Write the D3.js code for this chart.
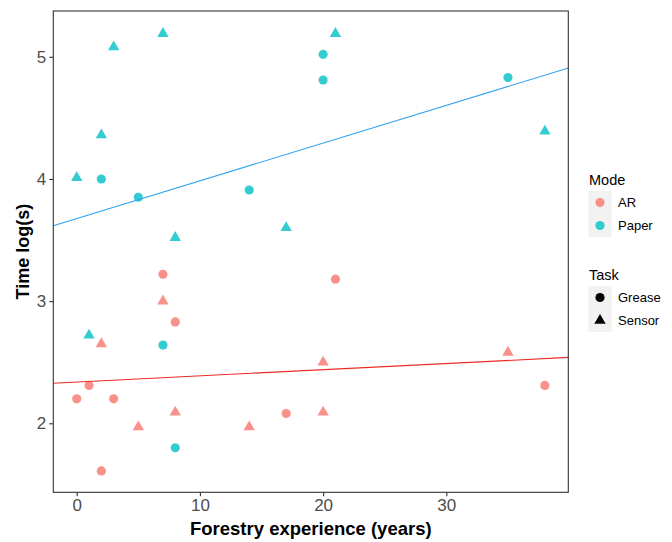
<!DOCTYPE html>
<html>
<head>
<meta charset="utf-8">
<script src="https://cdn.jsdelivr.net/npm/d3@7"></script>
<style>
  html, body { margin: 0; padding: 0; background: #fff; }
  svg { display: block; font-family: "Liberation Sans", Arial, sans-serif; }
</style>
</head>
<body>
<svg id="chart" width="672" height="542"></svg>
<script>
// Forestry experience (years) per participant, split by mode and task
const arGreaseX   = [7, 8, 1, 0, 3, 2, 17, 21, 38];
const arGreaseY   = [3.22, 2.83, 2.31, 2.20, 2.20, 1.61, 2.08, 3.18, 2.31];
const arSensorX   = [7, 2, 5, 8, 14, 20, 20, 35];
const arSensorY   = [3.00, 2.65, 1.97, 2.09, 1.97, 2.09, 2.50, 2.58];
const paperGreaseX = [2, 5, 14, 20, 20, 35, 7, 8];
const paperGreaseY = [4.00, 3.85, 3.91, 5.02, 4.81, 4.83, 2.64, 1.80];
const paperSensorX = [0, 2, 3, 7, 21, 17, 8, 38, 1];
const paperSensorY = [4.01, 4.36, 5.08, 5.19, 5.19, 3.60, 3.52, 4.39, 2.72];

const modes = ["AR", "Paper"];
const tasks = ["Grease", "Sensor"];
const xTicks = [0, 10, 20, 30];
const yTicks = [2, 3, 4, 5];

const pointColor = { AR: "#F8766D", Paper: "#00BFC4" };
const fitColor = { AR: "#ED2A24", Paper: "#33A3EE" };

const rows = [];
function addRows(mode, task, xs, ys) {
  xs.forEach((x, i) => rows.push({ mode, task, x, y: ys[i] }));
}
addRows("AR", "Grease", arGreaseX, arGreaseY);
addRows("AR", "Sensor", arSensorX, arSensorY);
addRows("Paper", "Grease", paperGreaseX, paperGreaseY);
addRows("Paper", "Sensor", paperSensorX, paperSensorY);

const svg = d3.select("#chart");
const panel = { left: 53.3, right: 568.3, top: 11, bottom: 492.3 };

const x = d3.scaleLinear().domain([-1.9, 39.9]).range([panel.left, panel.right]);
const y = d3.scaleLinear().domain([1.435, 5.375]).range([panel.bottom, panel.top]);

// clip for the fit lines
svg.append("defs").append("clipPath").attr("id", "panelClip")
  .append("rect")
  .attr("x", panel.left).attr("y", panel.top)
  .attr("width", panel.right - panel.left).attr("height", panel.bottom - panel.top);

// least-squares fit per mode, drawn across the whole panel
function fit(data) {
  const mx = d3.mean(data, d => d.x), my = d3.mean(data, d => d.y);
  const sxy = d3.sum(data, d => (d.x - mx) * (d.y - my));
  const sxx = d3.sum(data, d => (d.x - mx) ** 2);
  const b = sxy / sxx;
  return { a: my - b * mx, b };
}

const circleSym = d3.symbol().type(d3.symbolCircle).size(66);
const triSym = d3.symbol().type(d3.symbolTriangle).size(56);

// points
svg.append("g").selectAll("path")
  .data(rows)
  .join("path")
  .attr("transform", d => `translate(${x(d.x)},${y(d.y)})`)
  .attr("d", d => d.task === "Grease" ? circleSym() : triSym())
  .attr("fill", d => pointColor[d.mode])
  .attr("fill-opacity", 0.8);

// fit lines
const lineG = svg.append("g").attr("clip-path", "url(#panelClip)");
modes.forEach(m => {
  const f = fit(rows.filter(r => r.mode === m));
  const [x0, x1] = x.domain();
  lineG.append("line")
    .attr("x1", x(x0)).attr("y1", y(f.a + f.b * x0))
    .attr("x2", x(x1)).attr("y2", y(f.a + f.b * x1))
    .attr("stroke", fitColor[m])
    .attr("stroke-width", 1.1);
});

// panel border
svg.append("rect")
  .attr("x", panel.left).attr("y", panel.top)
  .attr("width", panel.right - panel.left).attr("height", panel.bottom - panel.top)
  .attr("fill", "none").attr("stroke", "#333").attr("stroke-width", 1.1);

// axes
const xAxis = svg.append("g")
  .attr("transform", `translate(0,${panel.bottom})`)
  .call(d3.axisBottom(x).tickValues(xTicks).tickSize(4).tickPadding(3).tickFormat(d3.format("d")));
const yAxis = svg.append("g")
  .attr("transform", `translate(${panel.left},0)`)
  .call(d3.axisLeft(y).tickValues(yTicks).tickSize(4).tickPadding(3).tickFormat(d3.format("d")));
[xAxis, yAxis].forEach(g => {
  g.select(".domain").remove();
  g.selectAll(".tick line").attr("stroke", "#333").attr("stroke-width", 1.1);
  g.selectAll(".tick text")
    .attr("fill", "#4D4D4D")
    .style("font-family", "'Liberation Sans', Arial, sans-serif")
    .style("font-size", "17px");
});

// axis titles
svg.append("text")
  .attr("x", (panel.left + panel.right) / 2).attr("y", 535)
  .attr("text-anchor", "middle")
  .style("font-size", "18.5px").style("font-weight", "bold")
  .text("Forestry experience (years)");
svg.append("text")
  .attr("transform", `translate(29,${(panel.top + panel.bottom) / 2}) rotate(-90)`)
  .attr("text-anchor", "middle")
  .style("font-size", "18px").style("font-weight", "bold")
  .text("Time log(s)");

// legends
function legend(top, title, items, drawKey) {
  const g = svg.append("g");
  g.append("text").attr("x", 589).attr("y", top)
    .style("font-size", "14.5px").attr("fill", "#000").text(title);
  g.append("rect").attr("x", 588.5).attr("y", top + 6)
    .attr("width", 23).attr("height", 23 * items.length)
    .attr("fill", "#F2F2F2");
  items.forEach((it, i) => {
    const cy = top + 6 + 11.5 + 23 * i;
    drawKey(g, it, 600, cy);
    g.append("text").attr("x", 618).attr("y", cy + 4.6)
      .style("font-size", "13px").attr("fill", "#000").text(it);
  });
}
legend(185, "Mode", modes, (g, m, cx, cy) => {
  g.append("path").attr("transform", `translate(${cx},${cy})`)
    .attr("d", circleSym()).attr("fill", pointColor[m]).attr("fill-opacity", 0.8);
});
legend(280, "Task", tasks, (g, t, cx, cy) => {
  g.append("path").attr("transform", `translate(${cx},${cy})`)
    .attr("d", t === "Grease" ? circleSym() : triSym()).attr("fill", "#000");
});
</script>
</body>
</html>
